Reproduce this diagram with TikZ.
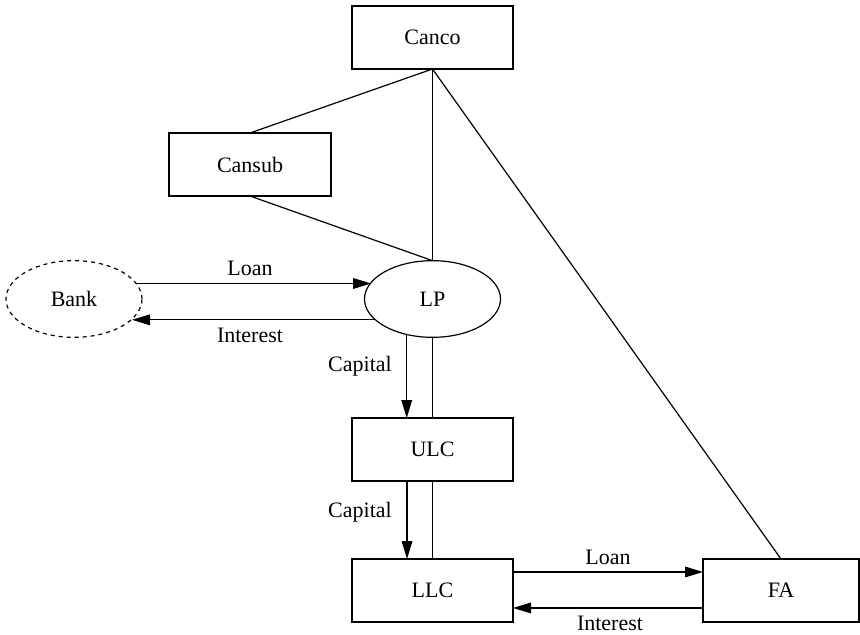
\documentclass[tikz,border=0pt]{standalone}
\usepackage{fontspec}
\setmainfont{Liberation Serif}
\usetikzlibrary{shapes.geometric,arrows.meta}
\begin{document}
\begin{tikzpicture}[x=0.75pt,y=-0.75pt,
  every node/.style={font=\fontsize{16.5}{19}\selectfont, inner sep=0pt, outer sep=0pt},
  box/.style={draw, line width=0.9pt, minimum width=120.75pt, minimum height=47.25pt},
  oval/.style={draw, line width=0.9pt, ellipse, minimum width=102pt, minimum height=57.5pt},
  conn/.style={line width=0.9pt},
  arr/.style={line width=0.9pt, -{Triangle[length=13.5pt,width=8pt]}},
  lbl/.style={}]
\useasboundingbox (0,0) rectangle (860,635);
\node[box] (canco) at (432.5,37.5) {Canco};
\node[box, minimum width=121.5pt] (cansub) at (250,164.5) {Cansub};
\node[oval, dashed] (bank) at (74,299) {Bank};
\node[oval] (lp) at (432.5,299) {LP};
\node[box] (ulc) at (432.5,449.5) {ULC};
\node[box] (llc) at (432.5,590.5) {LLC};
\node[box, minimum width=117pt] (fa) at (781,590.5) {FA};

\draw[conn] (canco.south) -- (cansub.north);
\draw[conn] (canco.south) -- (lp.north);
\draw[conn] (cansub.south) -- (lp.north);
\draw[conn] (canco.south) -- (fa.north);

\draw[arr] (bank.14.5) -- (bank.14.5 -| lp.165.5);
\draw[arr] (lp.-160.9) -- (lp.-160.9 -| bank.-19.1);
\node[lbl] (loan1) at (250,268) {Loan};
\node[lbl] (int1) at (250,335) {Interest};

\draw[arr] (lp.234.5) -- (lp.234.5 |- ulc.north);
\draw[conn] (lp.south) -- (ulc.north);
\node[lbl] (cap1) at (360,366) {Capital};

\draw[arr] ([xshift=-19.1pt]ulc.south) -- ([xshift=-19.1pt]llc.north);
\draw[conn] (ulc.south) -- (llc.north);
\node[lbl] (cap2) at (360,512) {Capital};

\draw[arr] ([yshift=13.9pt]llc.east) -- ([yshift=13.9pt]fa.west);
\draw[arr] ([yshift=-13.1pt]fa.west) -- ([yshift=-13.1pt]llc.east);
\node[lbl] (loan2) at (608,557) {Loan};
\node[lbl] (int2) at (610,623) {Interest};
\end{tikzpicture}
\end{document}
